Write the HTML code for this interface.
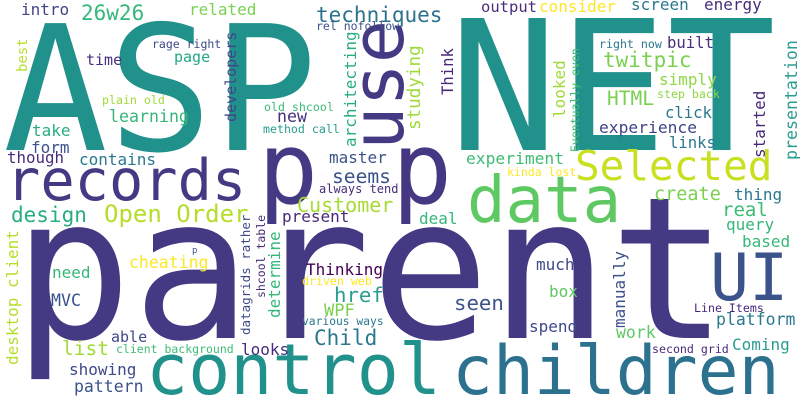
<!DOCTYPE html>
<html><head><meta charset="utf-8">
<style>
html,body{margin:0;padding:0;background:#fff}
svg{display:block}
text{font-family:"DejaVu Sans Mono","Liberation Mono",monospace}
</style></head>
<body>
<svg width="800" height="400" viewBox="0 0 800 400">
<rect width="800" height="400" fill="#fff"/>
<g id="words"></g>
</svg>
<script>
// word, font size, x, y (baseline / start), vertical flag, colour
const words = ["ASP","NET","parent","records","p","p","use","data","Selected","control","children","UI","Open Order","Customer","techniques","26w26","intro","related","rel nofollow","rage right","best","time","page","developers","architecting","plain old","learning","new","old shcool","method call","take","form","though","contains","master","seems","always tend","output","consider","screen","energy","studying","Think","right now","built","twitpic","simply","HTML","step back","looked","Eventually even","click","experience","links","started","presentation","experiment","kinda lost","create","thing","design","present","desktop client","cheating","p","need","MVC","datagrids rather","shcool table","determine","Thinking","driven web","href","WPF","various ways","able","Child","list","client background","looks","showing","pattern","deal","real","query","based","much","box","seen","manually","Line Items","platform","spend","work","second grid","Coming"];
const sizes = [174,181,198,57,100,100,72,64,41,70,68,65,24,20,21,21,16,16,11.5,11.5,14,15,15,15,16,11.6,16.6,16.6,11.6,11.6,16,16,15.8,16,16,19.6,12,15.5,16,16,16,17.6,15.6,11.6,15.6,21,16,19.5,11.6,16,11.5,15.6,16.3,15.6,16,16.6,16.3,11.5,18.5,16,21,16,16,16.5,9,16,16.6,12.5,11.5,16,16,11.6,20.7,17,11.3,15,21,19.5,11.5,16,16,16.5,16,19,16,16,16,16,20.7,16,11.6,16.5,16,16.5,11.6,16];
const xs = [3,449,13,6,258,392,403,467,575,146,452,710,104,297,316,81,21,189,316,152,27,86,174,236,356,102,109,277,264,263,32,31,7,79,329,332,319,481,539,631,704,420,453,599,667,603,659,607,657,565,579,665,599,669,765,797,466,507,654,734,11,282,18,129,192,52,51,250,265,280,306,302,334,324,302,111,314,62,116,241,69,74,419,722,726,742,536,549,454,625,694,716,529,616,652,732];
const ys = [150,150,338,200,203,203,150,222,180,394,394,300,222,212,22,20,15,15,30,48,72,65,62,122,147,104,122,122,111,133,136,153,163,165,163,183,193,12,12,10,10,130,95,48,48,67,85,105,98,118,152,118,133,148,158,160,164,176,200,200,222,222,365,268,253,278,306,335,298,318,275,285,302,316,325,342,345,355,353,355,375,392,224,216,230,247,270,297,310,328,312,325,332,338,353,350];
const vert = [0,0,0,0,0,0,1,0,0,0,0,0,0,0,0,0,0,0,0,0,1,0,0,1,1,0,0,0,0,0,0,0,0,0,0,0,0,0,0,0,0,1,1,0,0,0,0,0,0,1,1,0,0,0,1,1,0,0,0,0,0,0,1,0,0,0,0,1,1,1,0,0,0,0,0,0,0,0,0,0,0,0,0,0,0,0,0,0,0,1,0,0,0,0,0,0];
const colors = ["#21918c","#21918c","#443983","#443983","#443983","#453781","#443983","#5ec962","#c8e020","#21918c","#2c728e","#3b528b","#b5de2b","#a8db34","#2c728e","#35b779","#414487","#7ad151","#3b528b","#3e4989","#b5de2b","#472f7d","#22a884","#414487","#27ad81","#a0da39","#35b779","#472f7d","#3dbc74","#2a9d8f","#27ad81","#3b528b","#472d7b","#2a788e","#3b528b","#3b528b","#472d7b","#472d7b","#fde725","#2a788e","#472d7b","#a0da39","#482878","#2a788e","#472d7b","#7ad151","#8fd744","#7ad151","#8fd744","#a0da39","#3dbc74","#2a788e","#414487","#2a788e","#482878","#2a9d8f","#3dbc74","#fde725","#7ad151","#2a788e","#27ad81","#482878","#b5de2b","#fde725","#3b528b","#35b779","#3b528b","#3e4989","#472d7b","#35b779","#440154","#fde725","#2a9d8f","#7ad151","#2a788e","#3e4989","#2a788e","#a0da39","#3dbc74","#472d7b","#3e4989","#3b528b","#35b779","#3dbc74","#35b779","#35b779","#3e4989","#5ec962","#3b528b","#3b528b","#482878","#2a788e","#3e4989","#5ec962","#482878","#2a9d8f"];
const g = document.getElementById('words');
const NS = "http://www.w3.org/2000/svg";
words.forEach((w, i) => {
  const t = document.createElementNS(NS, 'text');
  t.textContent = w;
  t.setAttribute('font-size', sizes[i]);
  t.setAttribute('fill', colors[i]);
  if (vert[i]) {
    t.setAttribute('transform', 'translate(' + xs[i] + ',' + ys[i] + ') rotate(-90)');
  } else {
    t.setAttribute('x', xs[i]);
    t.setAttribute('y', ys[i]);
  }
  
  
  g.appendChild(t);
});
</script>
</body></html>
